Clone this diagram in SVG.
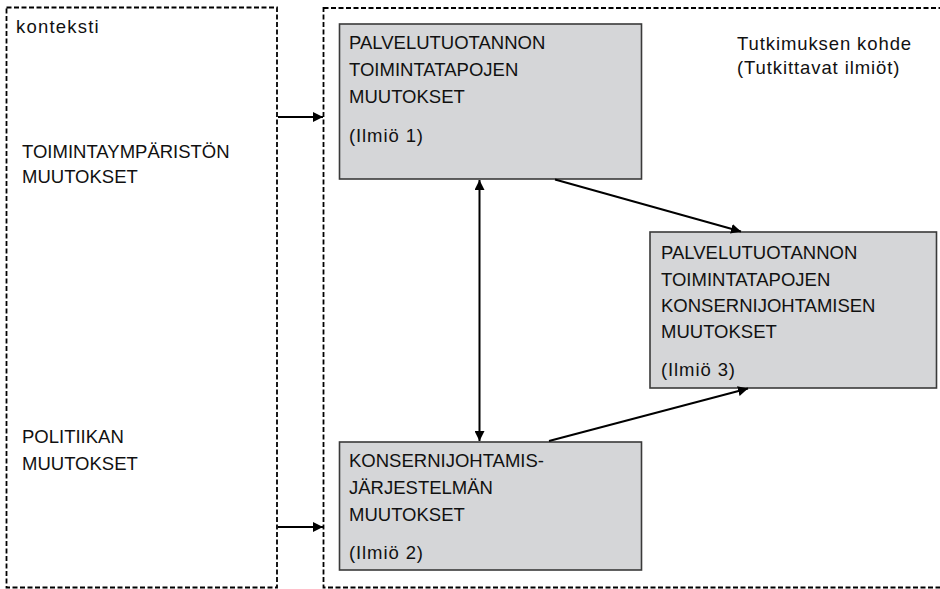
<svg xmlns="http://www.w3.org/2000/svg" width="940" height="589" viewBox="0 0 940 589">
  <style>
    text { font-family: "Liberation Sans", Arial, sans-serif; font-size: 18.5px; fill: #111111; }
    .lc { letter-spacing: 0.9px; }
    .frame { fill: none; stroke: #000000; stroke-width: 1.8; stroke-dasharray: 5 2.5; }
    .box { fill: #d5d6d8; stroke: #3a3a3a; stroke-width: 1.6; }
    .link { stroke: #000000; stroke-width: 2; fill: none; }
  </style>
  <defs>
    <marker id="head" viewBox="0 0 10 10" refX="10" refY="5" markerWidth="5" markerHeight="5" orient="auto-start-reverse" markerUnits="strokeWidth">
      <path d="M0,0 L10,5 L0,10 Z" fill="#000000"/>
    </marker>
  </defs>

  <!-- context frame -->
  <g id="context">
    <rect class="frame" x="6.5" y="7.5" width="270.5" height="580"/>
    <text class="lc" x="16" y="33" style="letter-spacing:1.2px">konteksti</text>
    <text x="22" y="158">TOIMINTAYMPÄRISTÖN</text>
    <text x="22" y="183">MUUTOKSET</text>
    <text x="22" y="443">POLITIIKAN</text>
    <text x="22" y="470">MUUTOKSET</text>
  </g>

  <!-- research object frame -->
  <g id="research">
    <rect class="frame" x="323.5" y="8" width="630" height="579.5"/>
    <text class="lc" x="737" y="50">Tutkimuksen kohde</text>
    <text class="lc" x="737" y="74">(Tutkittavat ilmiöt)</text>
  </g>

  <!-- phenomenon 1 -->
  <g id="ilmio1">
    <rect class="box" x="339.5" y="24" width="302" height="155"/>
    <text x="349" y="49">PALVELUTUOTANNON</text>
    <text x="349" y="76">TOIMINTATAPOJEN</text>
    <text x="349" y="103">MUUTOKSET</text>
    <text class="lc" x="349" y="142">(Ilmiö 1)</text>
  </g>

  <!-- phenomenon 3 -->
  <g id="ilmio3">
    <rect class="box" x="650" y="232" width="286.5" height="156"/>
    <text x="661" y="259">PALVELUTUOTANNON</text>
    <text x="661" y="286">TOIMINTATAPOJEN</text>
    <text x="661" y="312">KONSERNIJOHTAMISEN</text>
    <text x="661" y="338">MUUTOKSET</text>
    <text class="lc" x="661" y="376">(Ilmiö 3)</text>
  </g>

  <!-- phenomenon 2 -->
  <g id="ilmio2">
    <rect class="box" x="339.5" y="442" width="302" height="128"/>
    <text x="349" y="467">KONSERNIJOHTAMIS-</text>
    <text x="349" y="494">JÄRJESTELMÄN</text>
    <text x="349" y="521">MUUTOKSET</text>
    <text class="lc" x="349" y="559">(Ilmiö 2)</text>
  </g>

  <!-- connectors -->
  <g id="connectors">
    <line class="link" x1="278" y1="117" x2="323" y2="117" marker-end="url(#head)"/>
    <line class="link" x1="278" y1="527" x2="323" y2="527" marker-end="url(#head)"/>
    <line class="link" x1="479.5" y1="180" x2="479.5" y2="441" marker-start="url(#head)" marker-end="url(#head)"/>
    <line class="link" x1="555" y1="179.5" x2="741" y2="231.5" marker-end="url(#head)"/>
    <line class="link" x1="549" y1="441" x2="748" y2="388.5" marker-end="url(#head)"/>
  </g>
</svg>
